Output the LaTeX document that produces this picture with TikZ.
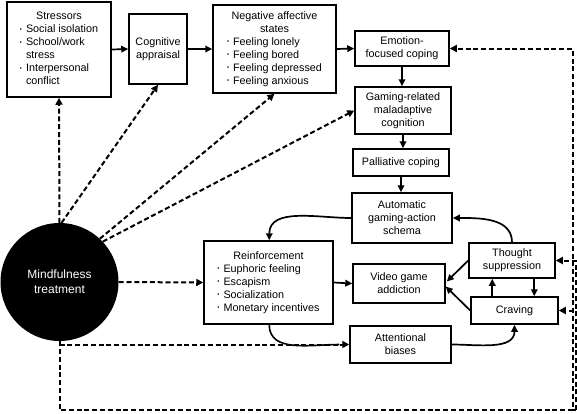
\documentclass[tikz,border=0pt]{standalone}
\usepackage{fontspec}
\setmainfont{Liberation Sans}
\usetikzlibrary{arrows.meta,calc}
\newcommand{\bul}{\raisebox{0.28ex}{\scalebox{0.55}{•}}}
\newcommand{\blist}[1]{\begin{tabular}{@{}l@{\hspace{4pt}}l@{}}#1\end{tabular}}
\newcommand{\titled}[2]{\begin{tabular}{@{}c@{}}#1\\\blist{#2}\end{tabular}}
\tikzset{
  box/.style={draw, line width=1.5pt, fill=white, inner sep=1pt, align=center,
    font=\fontsize{10.8}{13}\selectfont},
  arr/.style={line width=1.7pt, -{Triangle[length=7pt,width=6.5pt]}},
  darr/.style={line width=2pt, dash pattern=on 5pt off 2.8pt, -{Triangle[length=7pt,width=7pt]}},
  dline/.style={line width=2pt, dash pattern=on 5pt off 2.8pt},
}
\begin{document}
\begin{tikzpicture}[x=1pt,y=-1pt]
\useasboundingbox (0,0) rectangle (577,413);
% circle
\node[circle, fill=black, minimum size=118pt, inner sep=0pt, text=white, align=center,
  font=\fontsize{12}{15}\selectfont] (circ) at (59.5,282) {Mindfulness\\treatment};
% boxes
\node[box, minimum width=104pt, minimum height=95pt] (stress) at (59,49.5)
  {\titled{Stressors}{\bul & Social isolation\\ \bul & School/work\\ & stress\\ \bul & Interpersonal\\ & conflict}};
\node[box, minimum width=58pt, minimum height=70pt] (cog) at (158,49) {Cognitive\\appraisal};
\node[box, minimum width=123pt, minimum height=88pt] (neg) at (274.5,49)
  {\titled{Negative affective\\states}{\bul & Feeling lonely\\ \bul & Feeling bored\\ \bul & Feeling depressed\\ \bul & Feeling anxious}};
\node[box, minimum width=94pt, minimum height=35pt] (emo) at (402,48.5) {Emotion-\\focused coping};
\node[box, minimum width=96pt, minimum height=47pt] (gam) at (403,110.5) {Gaming-related\\maladaptive\\cognition};
\node[box, minimum width=96pt, minimum height=27pt] (pal) at (401,162.5) {Palliative coping};
\node[box, minimum width=100pt, minimum height=50pt] (aut) at (402,218) {Automatic\\gaming-action\\schema};
\node[box, minimum width=129pt, minimum height=83pt] (rein) at (268.5,282.5)
  {\titled{Reinforcement}{\bul & Euphoric feeling\\ \bul & Escapism\\ \bul & Socialization\\ \bul & Monetary incentives}};
\node[box, minimum width=92pt, minimum height=39pt] (vga) at (399,283.5) {Video game\\addiction};
\node[box, minimum width=86pt, minimum height=35pt] (ts) at (512,260.5) {Thought\\suppression};
\node[box, minimum width=87pt, minimum height=27pt] (crav) at (514.5,310.5) {Craving};
\node[box, minimum width=101pt, minimum height=37pt] (att) at (400.5,344.5) {Attentional\\biases};
% solid connectors
\draw[arr] (stress.east) -- (cog.west);
\draw[arr] (cog.east) -- (neg.west);
\draw[arr] (neg.east) -- (emo.west);
\draw[arr] (emo.south) -- (emo.south |- gam.north);
\draw[arr] (gam.south) -- (gam.south |- pal.north);
\draw[arr] (pal.south) -- (pal.south |- aut.north);
\draw[arr] (rein.east) -- (vga.west);
\coordinate (rtop) at ($(rein.north west)+(66,0)$);
\coordinate (rbot) at ($(rein.south west)+(66,0)$);
\draw[arr] (aut.west) to[out=180,in=90] (rtop);
\draw[arr] (ts.north) to[out=90,in=0] (aut.east);
\draw[arr] (ts.west) -- ($(vga.east)+(1,-2)$);
\draw[arr] (crav.west) -- ($(vga.east)+(0,3)$);
\coordinate (cup) at ($(crav.north west)+(22,0)$);
\coordinate (tdown) at ($(ts.south west)+(66,0)$);
\draw[arr] (cup) -- (cup |- ts.south);
\draw[arr] (tdown) -- (tdown |- crav.north);
\draw[arr] (att.east) to[out=0,in=-90] (crav.south);
\draw[line width=1.6pt] (rbot) to[out=-90,in=180] ($(att.west)+(-10,0)$);
% dashed connectors
\draw[darr] (circ.north) -- (stress.south);
\draw[darr] (circ.88) -- (cog.south);
\draw[darr] (circ.47) -- (neg.south);
\draw[darr] (circ.43) -- (gam.west);
\draw[darr] (circ.east) -- (rein.west);
\draw[darr] (circ.south |- att.west) -- (att.west);
\coordinate (br) at (572.5,410);
\coordinate (br2) at (575.5,410);
\draw[darr] (circ.south) |- (br) |- (emo.east);
\draw[dline] (br) -- (br2);
\draw[darr] (br2) |- (ts.east);
\draw[darr] (br2) |- (crav.east);
\end{tikzpicture}
\end{document}
